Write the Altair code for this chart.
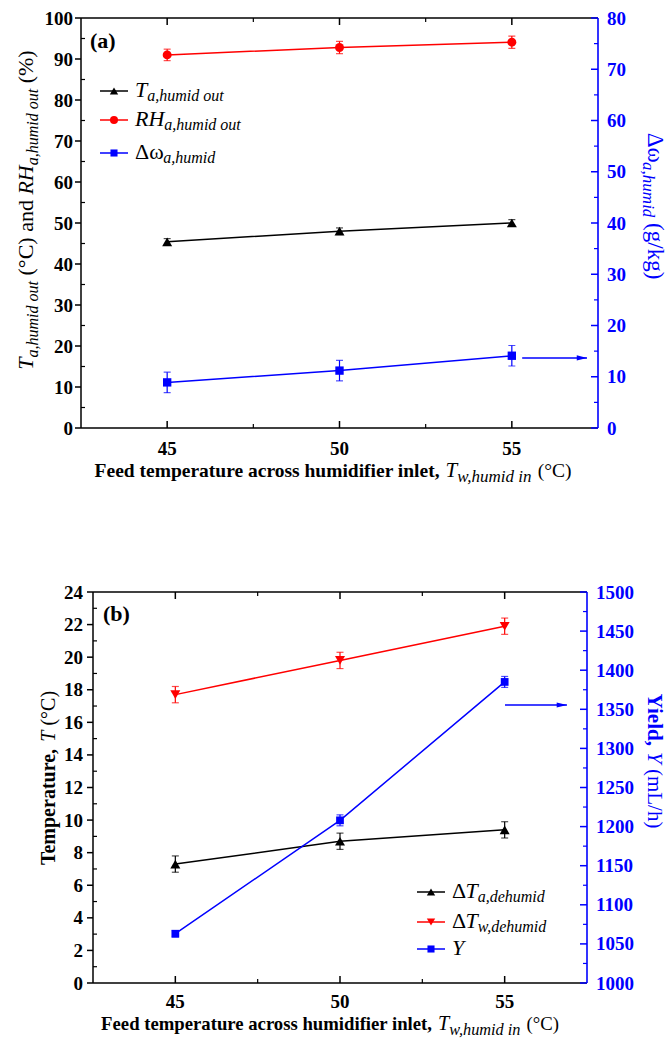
import altair as alt
import pandas as pd

FONT = "Liberation Serif"
RED = "#FF0000"
BLUE = "#0000FF"
BLACK = "#000000"

# ---------------- data ----------------
feed_temp = [45, 50, 55]

t_humid_out = [45.4, 48.0, 50.0]
t_humid_out_err = [0.8, 0.8, 0.8]
rh_humid_out = [91.0, 92.8, 94.1]
rh_humid_out_err = [1.4, 1.5, 1.5]
dw_humid = [8.9, 11.2, 14.1]
dw_humid_err = [2.0, 2.0, 2.0]

dT_a_dehumid = [7.3, 8.7, 9.4]
dT_a_err = [0.5, 0.5, 0.5]
dT_w_dehumid = [17.7, 19.8, 21.9]
dT_w_err = [0.5, 0.5, 0.5]
yield_mlh = [1063, 1208, 1385]
yield_err = [4, 7, 7]

x_domain = [42.5, 57.5]
x_major = [45, 50, 55]
x_minor = [47.5, 52.5]
a_left_domain = [0, 100]
a_right_domain = [0, 80]
b_left_domain = [0, 24]
b_right_domain = [1000, 1500]
a_left_major = list(range(0, 101, 10))
a_left_minor = list(range(5, 100, 10))
a_right_major = list(range(0, 81, 10))
a_right_minor = list(range(5, 80, 10))
b_left_major = list(range(0, 25, 2))
b_left_minor = list(range(1, 24, 2))
b_right_major = list(range(1000, 1501, 50))
b_right_minor = list(range(1025, 1500, 50))

# arrows pointing to the right-hand axis (data units)
arrow_a = {"x": [55.3], "x2": [57.18], "y": [13.66]}
arrow_b = {"x": [55.01], "x2": [56.89], "y": [1355.5]}

# ---------------- layout (pixels of the 667x1038 page) ----------------
PA = dict(x0=81, x1=598, y0=18, y1=428)
PB = dict(x0=93, x1=587, y0=592, y1=983)

# ---------------- text width helpers (Times metrics) ----------------
REG = {' ': 250, '(': 333, ')': 333, '%': 833, ',': 250, '/': 278, '°': 400,
       'C': 667, 'H': 722, 'L': 611, 'R': 667, 'T': 611, 'Y': 722,
       'a': 444, 'b': 500, 'c': 444, 'd': 500, 'e': 444, 'f': 333, 'g': 500,
       'h': 500, 'i': 278, 'k': 500, 'l': 278, 'm': 778, 'n': 500, 'o': 500,
       'p': 500, 'r': 333, 's': 389, 't': 278, 'u': 500, 'w': 722, 'y': 500,
       'Δ': 612, 'ω': 667}
ITA = {' ': 250, ',': 250, 'T': 556, 'R': 611, 'H': 722, 'Y': 556,
       'a': 500, 'd': 500, 'e': 444, 'h': 500, 'i': 278, 'm': 722, 'n': 500,
       'o': 500, 't': 278, 'u': 500, 'w': 667}
BOLD = {' ': 250, ',': 250, '(': 333, ')': 333, 'F': 611, 'T': 667, 'Y': 722,
        'a': 500, 'c': 444, 'd': 556, 'e': 444, 'f': 333, 'h': 556, 'i': 278,
        'l': 278, 'm': 833, 'n': 556, 'o': 500, 'p': 556, 'r': 444, 's': 389,
        't': 333, 'u': 556, 'b': 556}


def text_w(s, style, size):
    tab = {'r': REG, 'i': ITA, 'b': BOLD}[style]
    return sum(tab.get(c, 500) for c in s) * size / 1000.0


ONE = pd.DataFrame({"k": [0]})


def rich(segs, x, y, angle=0, center=False, color=BLACK):
    total = sum(text_w(t, st, sz) for t, st, sz, dy in segs)
    pos = -total / 2 if center else 0.0
    out = []
    for t, st, sz, dy in segs:
        lead = len(t) - len(t.lstrip(' '))
        p = pos + text_w(t[:lead], st, sz)
        txt = t.strip(' ')
        if angle == 0:
            px, py = x + p, y + dy
        elif angle == 270:
            px, py = x + dy, y - p
        else:
            px, py = x - dy, y + p
        if txt:
            out.append(alt.Chart(ONE).mark_text(
                text=txt, font=FONT, fontSize=sz,
                fontWeight='bold' if st == 'b' else 'normal',
                fontStyle='italic' if st == 'i' else 'normal',
                color=color, align='left', baseline='alphabetic', angle=angle
            ).encode(x=alt.value(px), y=alt.value(py)))
        pos += text_w(t, st, sz)
    return out


def xscale(P):
    return alt.Scale(domain=x_domain, range=[P['x0'], P['x1']], nice=False, zero=False)


def yscale(P, dom):
    return alt.Scale(domain=dom, range=[P['y1'], P['y0']], nice=False, zero=False)


def X(f, xs):
    return alt.X(f + ':Q', scale=xs, axis=None)


def Y(f, ys):
    return alt.Y(f + ':Q', scale=ys, axis=None)


def series(vals, errs, color, shape, size, xs, ys):
    df = pd.DataFrame({'x': feed_temp, 'v': vals,
                       'lo': [v - e for v, e in zip(vals, errs)],
                       'hi': [v + e for v, e in zip(vals, errs)]})
    b = alt.Chart(df)
    return [
        b.mark_line(color=color, strokeWidth=1.5).encode(x=X('x', xs), y=Y('v', ys)),
        b.mark_rule(color=color, strokeWidth=1.2).encode(x=X('x', xs), y=Y('lo', ys), y2='hi:Q'),
        b.mark_tick(color=color, orient='horizontal', size=7, thickness=1.2).encode(x=X('x', xs), y=Y('lo', ys)),
        b.mark_tick(color=color, orient='horizontal', size=7, thickness=1.2).encode(x=X('x', xs), y=Y('hi', ys)),
        b.mark_point(shape=shape, filled=True, size=size, color=color, opacity=1).encode(x=X('x', xs), y=Y('v', ys)),
    ]


def lab(align, color):
    return dict(font=FONT, fontSize=19, fontWeight='bold', align=align, baseline='alphabetic', color=color)


def frame(P, xs, ls, rs, lmaj, lmin, rmaj, rmin, lpad, rpad, xlab_y):
    x0, x1, y0, y1 = P['x0'], P['x1'], P['y0'], P['y1']
    o = []
    o.append(alt.Chart(ONE).mark_rule(color=BLACK, strokeWidth=1.5).encode(
        x=alt.value(x0), x2=alt.value(x1), y=alt.value(y0)))
    o.append(alt.Chart(ONE).mark_rule(color=BLACK, strokeWidth=1.5).encode(
        x=alt.value(x0), x2=alt.value(x1), y=alt.value(y1)))
    o.append(alt.Chart(ONE).mark_rule(color=BLACK, strokeWidth=1.5).encode(
        x=alt.value(x0), y=alt.value(y0), y2=alt.value(y1)))
    o.append(alt.Chart(ONE).mark_rule(color=BLUE, strokeWidth=1.6).encode(
        x=alt.value(x1), y=alt.value(y0), y2=alt.value(y1)))
    dmaj, dmin = pd.DataFrame({'t': lmaj}), pd.DataFrame({'t': lmin})
    rmj, rmn = pd.DataFrame({'t': rmaj}), pd.DataFrame({'t': rmin})
    xm, xn = pd.DataFrame({'t': x_major}), pd.DataFrame({'t': x_minor})
    # left axis
    o.append(alt.Chart(dmaj).mark_rule(color=BLACK, strokeWidth=1.5).encode(
        y=Y('t', ls), x=alt.value(x0 - 6), x2=alt.value(x0)))
    o.append(alt.Chart(dmin).mark_rule(color=BLACK, strokeWidth=1.2).encode(
        y=Y('t', ls), x=alt.value(x0), x2=alt.value(x0 + 4)))
    o.append(alt.Chart(dmaj).mark_text(dy=6.5, **lab('right', BLACK)).encode(
        y=Y('t', ls), x=alt.value(x0 - lpad), text=alt.Text('t:Q', format='d')))
    # right axis
    o.append(alt.Chart(rmj).mark_rule(color=BLUE, strokeWidth=1.5).encode(
        y=Y('t', rs), x=alt.value(x1 - 7), x2=alt.value(x1)))
    o.append(alt.Chart(rmn).mark_rule(color=BLUE, strokeWidth=1.2).encode(
        y=Y('t', rs), x=alt.value(x1 - 4), x2=alt.value(x1)))
    o.append(alt.Chart(rmj).mark_text(dy=6.5, **lab('left', BLUE)).encode(
        y=Y('t', rs), x=alt.value(x1 + rpad), text=alt.Text('t:Q', format='d')))
    # bottom / top
    o.append(alt.Chart(xm).mark_rule(color=BLACK, strokeWidth=1.5).encode(
        x=X('t', xs), y=alt.value(y1 - 7), y2=alt.value(y1)))
    o.append(alt.Chart(xn).mark_rule(color=BLACK, strokeWidth=1.2).encode(
        x=X('t', xs), y=alt.value(y1 - 4), y2=alt.value(y1)))
    o.append(alt.Chart(xm).mark_rule(color=BLACK, strokeWidth=1.5).encode(
        x=X('t', xs), y=alt.value(y0), y2=alt.value(y0 + 7)))
    o.append(alt.Chart(xn).mark_rule(color=BLACK, strokeWidth=1.2).encode(
        x=X('t', xs), y=alt.value(y0), y2=alt.value(y0 + 4)))
    o.append(alt.Chart(xm).mark_text(**lab('center', BLACK)).encode(
        x=X('t', xs), y=alt.value(xlab_y), text=alt.Text('t:Q', format='d')))
    return o


ARROW_HEAD = "M-1,-0.5L1,0L-1,0.5Z"


def arrow(d, xs, rs):
    df = pd.DataFrame(d)
    b = alt.Chart(df)
    return [
        b.mark_rule(color=BLUE, strokeWidth=1.3).encode(x=X('x', xs), x2='x2:Q', y=Y('y', rs)),
        b.mark_point(shape=ARROW_HEAD, filled=True, size=110, color=BLUE, opacity=1, xOffset=-5).encode(
            x=X('x2', xs), y=Y('y', rs)),
    ]


def legend_row(x0, y, color, shape, size, segs):
    d = []
    d.append(alt.Chart(ONE).mark_rule(color=color, strokeWidth=1.5).encode(
        x=alt.value(x0), x2=alt.value(x0 + 28), y=alt.value(y)))
    d.append(alt.Chart(ONE).mark_point(shape=shape, filled=True, size=size, color=color, opacity=1).encode(
        x=alt.value(x0 + 14), y=alt.value(y)))
    d += rich(segs, x0 + 35, y + 6)
    return d


def xtitle(cx, y, k=1.0):
    return rich([("Feed temperature across humidifier inlet, ", 'b', 19.5 * k, 0),
                 ("T", 'i', 21 * k, 0), ("w,humid in", 'i', 17 * k, 5), (" (°C)", 'r', 19.5 * k, 0)],
                cx, y, center=True)


layers = []

# ---------------- panel (a) ----------------
XA = xscale(PA)
YA = yscale(PA, a_left_domain)
YAR = yscale(PA, a_right_domain)
layers += frame(PA, XA, YA, YAR, a_left_major, a_left_minor, a_right_major, a_right_minor, 8, 9, 455)
layers += series(t_humid_out, t_humid_out_err, BLACK, 'triangle-up', 100, XA, YA)
layers += series(rh_humid_out, rh_humid_out_err, RED, 'circle', 80, XA, YA)
layers += series(dw_humid, dw_humid_err, BLUE, 'square', 70, XA, YAR)
layers += arrow(arrow_a, XA, YAR)
layers += rich([("(a)", 'b', 22, 0)], 90, 48)
layers += legend_row(100, 91, BLACK, 'triangle-up', 70, [("T", 'i', 22, 0), ("a,humid out", 'i', 16, 4)])
layers += legend_row(100, 120, RED, 'circle', 65, [("RH", 'i', 22, 0), ("a,humid out", 'i', 16, 4)])
layers += legend_row(100, 153, BLUE, 'square', 50, [("Δω", 'r', 22, 0), ("a,humid", 'i', 16, 4)])
layers += xtitle(333, 477)
layers += rich([("T", 'i', 22, 0), ("a,humid out", 'i', 16, 5), (" (°C) and ", 'r', 22, 0),
                ("RH", 'i', 22, 0), ("a,humid out", 'i', 16, 5), (" (%)", 'r', 22, 0)],
               33, 210, angle=270, center=True)
layers += rich([("Δω", 'r', 23, 0), ("a,humid", 'i', 17, 5), (" (g/kg)", 'r', 23, 0)],
               648, 206, angle=90, center=True, color=BLUE)

# ---------------- panel (b) ----------------
XB = xscale(PB)
YB = yscale(PB, b_left_domain)
YBR = yscale(PB, b_right_domain)
layers += frame(PB, XB, YB, YBR, b_left_major, b_left_minor, b_right_major, b_right_minor, 10, 9, 1008)
layers += series(dT_a_dehumid, dT_a_err, BLACK, 'triangle-up', 100, XB, YB)
layers += series(dT_w_dehumid, dT_w_err, RED, 'triangle-down', 100, XB, YB)
layers += series(yield_mlh, yield_err, BLUE, 'square', 60, XB, YBR)
layers += arrow(arrow_b, XB, YBR)
layers += rich([("(b)", 'b', 22, 0)], 103, 621)
layers += legend_row(417, 892, BLACK, 'triangle-up', 70, [("Δ", 'r', 22, 0), ("T", 'i', 22, 0), ("a,dehumid", 'i', 16, 4)])
layers += legend_row(417, 922, RED, 'triangle-down', 70, [("Δ", 'r', 22, 0), ("T", 'i', 22, 0), ("w,dehumid", 'i', 16, 4)])
layers += legend_row(417, 949, BLUE, 'square', 50, [("Y", 'i', 22, 0)])
layers += xtitle(330, 1030, 0.96)
layers += rich([("Temperature, ", 'b', 20, 0), ("T", 'i', 20, 0), (" (°C)", 'r', 20, 0)],
               55, 778, angle=270, center=True)
layers += rich([("Yield, ", 'b', 21, 0), ("Y", 'i', 21, 0), (" (mL/h)", 'r', 21, 0)],
               648, 761, angle=90, center=True, color=BLUE)

chart = alt.layer(*layers).resolve_scale(x='independent', y='independent').properties(
    width=667, height=1038,
    autosize=alt.AutoSizeParams(type='none'),
    padding=0,
    background='white'
).configure_view(stroke=None)

chart.save("out.html", embed_options={"renderer": "svg", "actions": False})
